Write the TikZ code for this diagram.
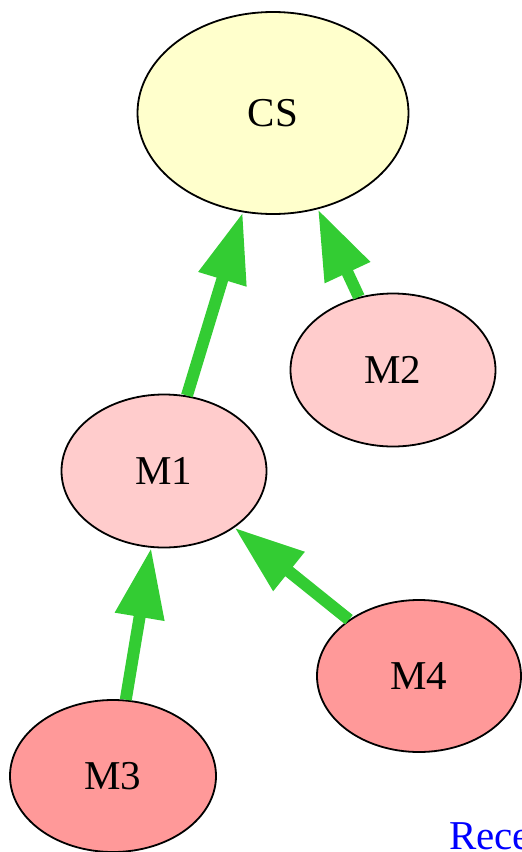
\documentclass[tikz,border=0pt]{standalone}
\usepackage{fontspec}
\setmainfont{Liberation Serif}
\usepackage{xcolor}
\usepackage{tikz}
\usetikzlibrary{arrows.meta,shapes.geometric}
\definecolor{csyellow}{HTML}{FFFFCC}
\definecolor{mpink}{HTML}{FFCCCC}
\definecolor{mred}{HTML}{FF9999}
\definecolor{depgreen}{HTML}{33CC33}

\begin{document}
\begin{tikzpicture}[
  x=1pt, y=-1pt,
  cls/.style={ellipse, draw, line width=1.8pt, inner sep=0pt,
    font=\fontsize{41}{49}\selectfont},
  dep/.style={-{Triangle[length=70pt, width=47pt]}, line width=12pt,
    depgreen},
]
  \useasboundingbox (0,0) rectangle (522,852);

  % CS on top, the modules below it
  \node[cls, fill=csyellow, minimum width=271pt, minimum height=202pt]
    (cs) at (273,113) {CS};
  \node[cls, fill=mpink, minimum width=205pt, minimum height=153pt]
    (m2) at (393,370) {M2};
  \node[cls, fill=mpink, minimum width=205pt, minimum height=153pt]
    (m1) at (164,471) {M1};
  \node[cls, fill=mred, minimum width=204pt, minimum height=152pt]
    (m4) at (419,676) {M4};
  \node[cls, fill=mred, minimum width=206pt, minimum height=152pt]
    (m3) at (113,776) {M3};

  % dependencies
  \draw[dep] (m1) -- (cs);
  \draw[dep] (m2) -- (cs);
  \draw[dep] (m3) -- (m1);
  \draw[dep] (m4) -- (m1);

  % clipped label at the lower right
  \node[anchor=base west, inner sep=0pt, text=blue,
    font=\fontsize{41}{49}\selectfont] (rec) at (449,849) {Rece};
\end{tikzpicture}
\end{document}
